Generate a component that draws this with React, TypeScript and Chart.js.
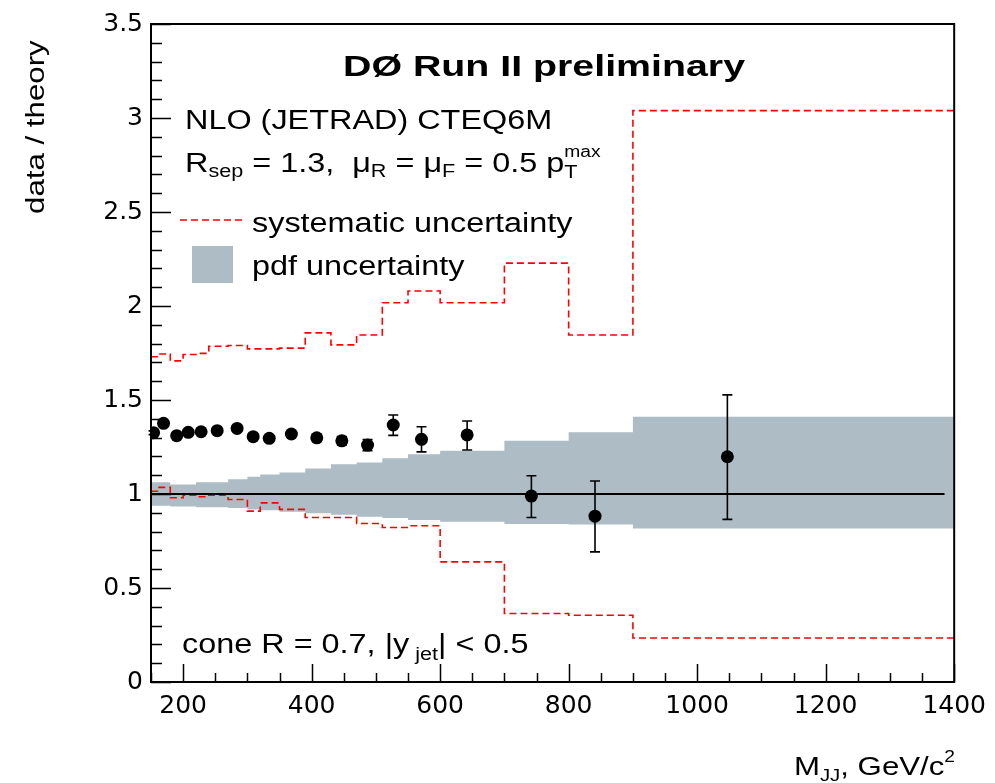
import React, { useEffect, useRef } from "react";
import { Chart, registerables } from "chart.js";

Chart.register(...registerables);

// ---- data ----
const binEdges = [150, 160, 180, 200, 220, 240, 270, 300, 320, 350, 390, 430, 470, 510, 550, 600, 700, 800, 900, 1400];
const sysUpper = [1.73, 1.745, 1.708, 1.742, 1.748, 1.786, 1.79, 1.772, 1.772, 1.776, 1.857, 1.793, 1.846, 2.017, 2.08, 2.017, 2.228, 1.846, 3.039];
const sysLower = [1.015, 1.035, 0.98, 0.994, 0.985, 0.994, 0.971, 0.909, 0.953, 0.918, 0.875, 0.875, 0.843, 0.822, 0.831, 0.639, 0.364, 0.355, 0.234];
const pdfUpper = [1.062, 1.062, 1.051, 1.051, 1.062, 1.062, 1.079, 1.092, 1.104, 1.115, 1.136, 1.158, 1.168, 1.19, 1.212, 1.23, 1.283, 1.328, 1.411];
const pdfLower = [0.937, 0.937, 0.934, 0.934, 0.929, 0.929, 0.925, 0.918, 0.913, 0.905, 0.897, 0.89, 0.879, 0.872, 0.862, 0.852, 0.84, 0.838, 0.817];

const dataMass = [154, 169.5, 190, 208, 228, 253, 284, 309, 334, 368.5, 408, 447, 487, 527, 571, 642, 742, 841, 1047];
const dataRatio = [1.326, 1.376, 1.31, 1.328, 1.331, 1.337, 1.349, 1.305, 1.296, 1.319, 1.299, 1.283, 1.26, 1.367, 1.291, 1.314, 0.989, 0.882, 1.198];
const errLow = [0.01, 0.01, 0.01, 0.01, 0.01, 0.01, 0.012, 0.012, 0.013, 0.015, 0.018, 0.022, 0.03, 0.055, 0.067, 0.08, 0.114, 0.19, 0.333];
const errHigh = [0.01, 0.01, 0.01, 0.01, 0.01, 0.01, 0.012, 0.012, 0.013, 0.015, 0.018, 0.022, 0.03, 0.053, 0.067, 0.074, 0.108, 0.187, 0.329];

const theoryLine = [
  { x: 150, y: 1 },
  { x: 1385, y: 1 },
];

const xTickValues = [200, 400, 600, 800, 1000, 1200, 1400];
const xTickLabels = ["200", "400", "600", "800", "1000", "1200", "1400"];
const yTickValues = [0, 0.5, 1, 1.5, 2, 2.5, 3, 3.5];
const yTickLabels = ["0", "0.5", "1", "1.5", "2", "2.5", "3", "3.5"];

// ---- styling ----
const FONT = "'Liberation Sans', Arial, Helvetica, sans-serif";
const TICK_FONT = "'DejaVu Sans', sans-serif";
const RED = "#ff0000";
const GREY = "#aebdc5";
const SX = 1.2;

function stepPoints(edges: number[], vals: number[]) {
  const pts = vals.map((v, i) => ({ x: edges[i], y: v }));
  pts.push({ x: edges[edges.length - 1], y: vals[vals.length - 1] });
  return pts;
}

type Part = { t: string; size?: number; dy?: number; bold?: boolean; keep?: boolean };

function measureParts(ctx: CanvasRenderingContext2D, parts: Part[], base: number, sx: number) {
  let w = 0;
  for (const p of parts) {
    const size = p.size ?? base;
    ctx.font = `${p.bold ? "bold " : ""}${size}px ${FONT}`;
    if (!p.keep) w += ctx.measureText(p.t).width * sx;
  }
  return w;
}

function drawParts(ctx: CanvasRenderingContext2D, x: number, y: number, parts: Part[], base: number, sx: number) {
  let cx = x;
  for (const p of parts) {
    const size = p.size ?? base;
    ctx.font = `${p.bold ? "bold " : ""}${size}px ${FONT}`;
    const w = ctx.measureText(p.t).width * sx;
    ctx.save();
    ctx.translate(cx, y + (p.dy ?? 0));
    ctx.scale(sx, 1);
    ctx.fillText(p.t, 0, 0);
    ctx.restore();
    if (!p.keep) cx += w;
  }
  return cx;
}

const framePlugin = {
  id: "frameTicks",
  afterDatasetsDraw(chart: any) {
    const { ctx, scales } = chart;
    const xs = scales.x;
    const ys = scales.y;
    ctx.save();
    // error bars
    ctx.strokeStyle = "#000";
    ctx.lineWidth = 1.6;
    dataMass.forEach((m, i) => {
      const px = xs.getPixelForValue(m);
      const top = ys.getPixelForValue(dataRatio[i] + errHigh[i]);
      const bot = ys.getPixelForValue(dataRatio[i] - errLow[i]);
      ctx.beginPath();
      ctx.moveTo(px, top);
      ctx.lineTo(px, bot);
      ctx.moveTo(px - 5, top);
      ctx.lineTo(px + 5, top);
      ctx.moveTo(px - 5, bot);
      ctx.lineTo(px + 5, bot);
      ctx.stroke();
    });
    ctx.restore();
  },
  afterDraw(chart: any) {
    const { ctx, chartArea: a, scales } = chart;
    const xs = scales.x;
    const ys = scales.y;
    ctx.save();
    ctx.strokeStyle = "#000";
    ctx.lineWidth = 2;
    ctx.strokeRect(a.left, a.top, a.right - a.left, a.bottom - a.top);
    ctx.lineWidth = 1.5;
    ctx.beginPath();
    for (let k = 0; k <= 35; k++) {
      const v = k / 10;
      const py = Math.round(ys.getPixelForValue(v)) + 0.5;
      const len = k % 5 === 0 ? 20 : 11;
      ctx.moveTo(a.left, py);
      ctx.lineTo(a.left + len, py);
    }
    for (let v = 150; v <= 1400; v += 50) {
      const px = Math.round(xs.getPixelForValue(v)) + 0.5;
      const len = v % 200 === 0 ? 18 : 9;
      ctx.moveTo(px, a.bottom);
      ctx.lineTo(px, a.bottom - len);
    }
    ctx.stroke();

    // texts
    ctx.fillStyle = "#000";
    ctx.textBaseline = "alphabetic";
    ctx.textAlign = "left";

    // title
    const title = "D\u00D8 Run II preliminary";
    ctx.font = `bold 30px ${FONT}`;
    const tw = ctx.measureText(title).width;
    drawParts(ctx, 343, 76, [{ t: title, bold: true, size: 30 }], 30, 402 / tw);

    drawParts(ctx, 185, 129, [{ t: "NLO (JETRAD) CTEQ6M" }], 27, SX);
    drawParts(
      ctx,
      185,
      172,
      [
        { t: "R" },
        { t: "sep", size: 18, dy: 5 },
        { t: " = 1.3,  \u03BC" },
        { t: "R", size: 18, dy: 5 },
        { t: " = \u03BC" },
        { t: "F", size: 18, dy: 5 },
        { t: " = 0.5 p" },
        { t: "T", size: 18, dy: 6, keep: true },
        { t: "max", size: 16, dy: -15 },
      ],
      27,
      SX
    );

    // legend
    ctx.save();
    ctx.strokeStyle = RED;
    ctx.lineWidth = 1.6;
    ctx.setLineDash([7, 4]);
    ctx.beginPath();
    ctx.moveTo(180, 220);
    ctx.lineTo(243, 220);
    ctx.stroke();
    ctx.restore();
    drawParts(ctx, 252, 232, [{ t: "systematic uncertainty" }], 27, SX);
    ctx.fillStyle = GREY;
    ctx.fillRect(192, 246, 41, 37);
    ctx.fillStyle = "#000";
    drawParts(ctx, 252, 275, [{ t: "pdf uncertainty" }], 27, SX);

    // cone text
    drawParts(
      ctx,
      182,
      653,
      [{ t: "cone R = 0.7, |y" }, { t: " jet", size: 18, dy: 7 }, { t: "| < 0.5" }],
      27,
      SX
    );

    // x title
    const xParts: Part[] = [
      { t: "M" },
      { t: "JJ", size: 17, dy: 6 },
      { t: ", GeV/c" },
      { t: "2", size: 16, dy: -13 },
    ];
    const xw = measureParts(ctx, xParts, 26, SX);
    drawParts(ctx, 955 - xw, 775, xParts, 26, SX);

    // y title
    ctx.save();
    ctx.translate(44, 214);
    ctx.rotate(-Math.PI / 2);
    drawParts(ctx, 0, 0, [{ t: "data / theory" }], 25, 1.25);
    ctx.restore();

    ctx.restore();
  },
};

export default function App() {
  const canvasRef = useRef<HTMLCanvasElement | null>(null);

  useEffect(() => {
    const canvas = canvasRef.current;
    if (!canvas) return;
    const points = dataMass.map((m, i) => ({ x: m, y: dataRatio[i] }));
    const chart = new Chart(canvas, {
      type: "scatter",
      data: {
        datasets: [
          {
            type: "scatter",
            label: "data",
            data: points,
            pointRadius: 6.5,
            pointHoverRadius: 6.5,
            backgroundColor: "#000",
            borderColor: "#000",
            borderWidth: 0,
            order: 0,
          } as any,
          {
            type: "line",
            label: "theory",
            data: theoryLine,
            borderColor: "#000",
            borderWidth: 2,
            pointRadius: 0,
            fill: false,
            order: 1,
          } as any,
          {
            type: "line",
            label: "systematic uncertainty",
            data: stepPoints(binEdges, sysUpper),
            stepped: true,
            borderColor: RED,
            borderWidth: 1.6,
            borderDash: [7, 4],
            pointRadius: 0,
            fill: false,
            order: 2,
          } as any,
          {
            type: "line",
            label: "systematic uncertainty (low)",
            data: stepPoints(binEdges, sysLower),
            stepped: true,
            borderColor: RED,
            borderWidth: 1.6,
            borderDash: [7, 4],
            pointRadius: 0,
            fill: false,
            order: 2,
          } as any,
          {
            type: "line",
            label: "pdf uncertainty",
            data: stepPoints(binEdges, pdfUpper),
            stepped: true,
            borderColor: "rgba(0,0,0,0)",
            borderWidth: 0,
            backgroundColor: GREY,
            pointRadius: 0,
            fill: "+1",
            order: 3,
          } as any,
          {
            type: "line",
            label: "pdf uncertainty (low)",
            data: stepPoints(binEdges, pdfLower),
            stepped: true,
            borderColor: "rgba(0,0,0,0)",
            borderWidth: 0,
            pointRadius: 0,
            fill: false,
            order: 3,
          } as any,
        ],
      },
      options: {
        animation: false,
        responsive: false,
        devicePixelRatio: 1,
        events: [],
        layout: { padding: { top: 24, right: 37, left: 0, bottom: 0 } },
        plugins: {
          legend: { display: false },
          tooltip: { enabled: false },
          title: { display: false },
        },
        scales: {
          x: {
            type: "linear",
            min: 150,
            max: 1400,
            afterBuildTicks: (s: any) => {
              s.ticks = xTickValues.map((v) => ({ value: v }));
            },
            afterFit: (s: any) => {
              s.height = 101;
            },
            grid: { display: false, drawTicks: false },
            border: { display: false },
            ticks: {
              color: "#000",
              font: { family: TICK_FONT, size: 25 },
              padding: 9,
              maxRotation: 0,
              autoSkip: false,
              callback: (_v: any, i: number) => xTickLabels[i],
            },
          },
          y: {
            type: "linear",
            min: 0,
            max: 3.5,
            afterBuildTicks: (s: any) => {
              s.ticks = yTickValues.map((v) => ({ value: v }));
            },
            afterFit: (s: any) => {
              s.width = 151;
            },
            grid: { display: false, drawTicks: false },
            border: { display: false },
            ticks: {
              color: "#000",
              font: { family: TICK_FONT, size: 25 },
              padding: 8,
              autoSkip: false,
              callback: (_v: any, i: number) => yTickLabels[i],
            },
          },
        },
      } as any,
      plugins: [framePlugin],
    });
    return () => chart.destroy();
  }, []);

  return (
    <div style={{ position: "fixed", left: 0, top: 0, width: 995, height: 783, background: "#fff" }}>
      <canvas ref={canvasRef} width={995} height={783} style={{ display: "block" }} />
    </div>
  );
}
